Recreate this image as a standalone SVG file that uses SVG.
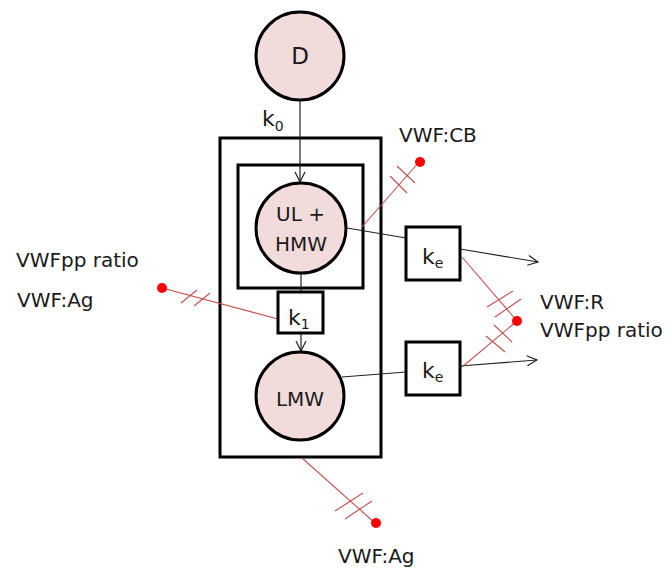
<svg xmlns="http://www.w3.org/2000/svg" width="669" height="572" viewBox="0 0 669 572">
<defs>
<style>
.t{font-family:"DejaVu Sans","Liberation Sans",sans-serif;font-size:20px;fill:#1a1a1a}
.k{font-size:22px}
.sub{font-size:14px}
.circ{fill:#f2dcdb;stroke:#000;stroke-width:3}
.box{fill:#fff;stroke:#000;stroke-width:3}
.frame{fill:none;stroke:#000;stroke-width:3}
.con{stroke:#222;stroke-width:1.2;fill:none}
.red{stroke:#c0504d;stroke-width:1.1;fill:none}
.dot{fill:#ff0000}
</style>
<marker id="arr" viewBox="0 0 12 12" refX="11" refY="6" markerWidth="12" markerHeight="12" markerUnits="userSpaceOnUse" orient="auto">
<path d="M1,1 L11,6 L1,11" fill="none" stroke="#222" stroke-width="1.2"/>
</marker>
</defs>
<rect width="669" height="572" fill="#fff"/>

<g id="compartment-outer"><rect class="frame" x="220" y="138" width="161" height="319"/></g>
<g id="compartment-inner"><rect class="frame" x="238" y="165" width="125" height="123"/></g>

<g id="connectors">
<line class="con" x1="300" y1="100" x2="300" y2="182" marker-end="url(#arr)"/>
<line class="con" x1="301" y1="273" x2="301" y2="292"/>
<line class="con" x1="301" y1="333" x2="301" y2="351" marker-end="url(#arr)"/>
<line class="con" x1="347" y1="228" x2="406" y2="238"/>
<line class="con" x1="460" y1="249" x2="538" y2="262" marker-end="url(#arr)"/>
<line class="con" x1="342" y1="377" x2="406" y2="372"/>
<line class="con" x1="460" y1="366" x2="537" y2="360" marker-end="url(#arr)"/>
<g id="measurements">
<line class="red" x1="419" y1="162" x2="362" y2="227"/>
<line class="red" x1="397" y1="166" x2="415" y2="183"/>
<line class="red" x1="390" y1="176" x2="407" y2="193"/>
<line class="red" x1="162" y1="288" x2="278" y2="319"/>
<line class="red" x1="181" y1="303" x2="197" y2="290"/>
<line class="red" x1="194" y1="306" x2="210" y2="293"/>
<line class="red" x1="462" y1="257" x2="517" y2="321"/>
<line class="red" x1="487" y1="307" x2="513" y2="291"/>
<line class="red" x1="495" y1="317" x2="521" y2="299"/>
<line class="red" x1="462" y1="367" x2="517" y2="321"/>
<line class="red" x1="486" y1="336" x2="505" y2="352"/>
<line class="red" x1="494" y1="325" x2="512" y2="342"/>
<line class="red" x1="302" y1="458" x2="375" y2="523"/>
<line class="red" x1="335" y1="511" x2="363" y2="493"/>
<line class="red" x1="345" y1="519" x2="372" y2="501"/>
<circle class="dot" cx="420" cy="162" r="5"/>
<circle class="dot" cx="162" cy="288" r="5"/>
<circle class="dot" cx="517" cy="321" r="5"/>
<circle class="dot" cx="376" cy="523" r="5"/>
</g>
</g>

<g id="D"><circle class="circ" cx="300" cy="56" r="44"/><text class="t" x="300" y="64" text-anchor="middle" style="font-size:23px">D</text></g>
<g id="k0-label"><text class="t k" x="262" y="126">k<tspan class="sub" dy="5">0</tspan></text></g>
<g id="UL-HMW"><circle class="circ" cx="301" cy="228" r="45"/><text class="t" x="276" y="221">UL +</text><text class="t" x="275" y="251">HMW</text></g>
<g id="k1"><rect class="box" x="278" y="292" width="45" height="41"/><text class="t k" x="288" y="325">k<tspan class="sub" dy="4">1</tspan></text></g>
<g id="LMW"><circle class="circ" cx="300" cy="396" r="44"/><text class="t" x="300" y="406" text-anchor="middle">LMW</text></g>
<g id="ke1"><rect class="box" x="406" y="227" width="54" height="53"/><text class="t k" x="422" y="264">k<tspan class="sub" dy="4">e</tspan></text></g>
<g id="ke2"><rect class="box" x="406" y="342" width="54" height="53"/><text class="t k" x="422" y="378">k<tspan class="sub" dy="4">e</tspan></text></g>

<g id="labels">
<text class="t" x="399" y="142">VWF:CB</text>
<text class="t" x="16" y="267">VWFpp ratio</text>
<text class="t" x="17" y="307">VWF:Ag</text>
<text class="t" x="540" y="309">VWF:R</text>
<text class="t" x="540" y="337">VWFpp ratio</text>
<text class="t" x="338" y="563">VWF:Ag</text>
</g>
</svg>
